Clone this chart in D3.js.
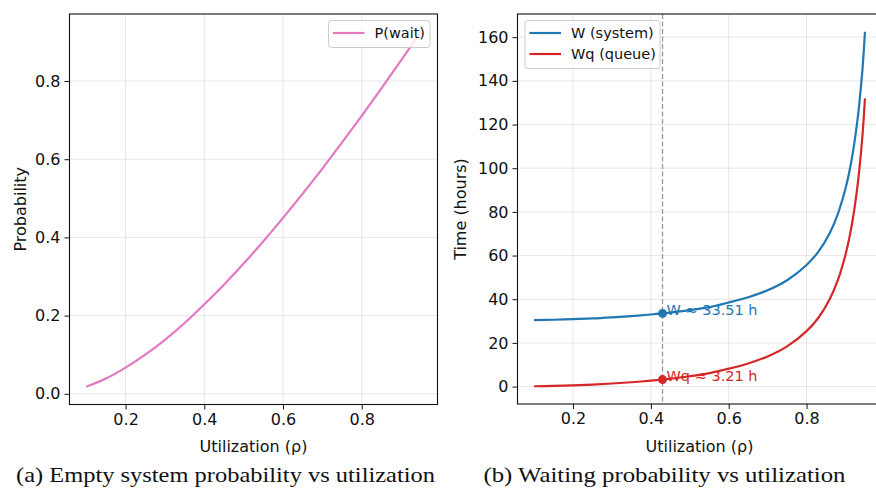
<!DOCTYPE html>
<html>
<head>
<meta charset="utf-8">
<script src="https://cdn.jsdelivr.net/npm/d3@7"></script>
<style>
  body { margin: 0; background: #fff; }
  svg { display: block; }
  text { font-family: "DejaVu Sans", sans-serif; }
  .caption { font-family: "Liberation Serif", "DejaVu Serif", serif; }
</style>
</head>
<body>
<svg width="876" height="495"></svg>
<script>
// utilization values
var rho = [0.10, 0.15, 0.20, 0.25, 0.30, 0.35, 0.40, 0.45, 0.50, 0.55,
           0.60, 0.65, 0.70, 0.75, 0.80, 0.85, 0.90, 0.95];
var pWait = [0.018, 0.039, 0.067, 0.100, 0.138, 0.181, 0.229, 0.279, 0.333, 0.390,
             0.450, 0.512, 0.576, 0.643, 0.711, 0.781, 0.853, 0.926];

// right panel
var rhoW = [0.10, 0.15, 0.20, 0.25, 0.30, 0.35, 0.40, 0.43, 0.45, 0.50, 0.55, 0.60, 0.65,
            0.70, 0.75, 0.80, 0.83, 0.86, 0.88, 0.90, 0.91, 0.92, 0.93, 0.935, 0.94, 0.945, 0.95];
var wSystem = [30.4, 30.6, 30.9, 31.2, 31.7, 32.3, 33.0, 33.51, 33.9, 35.0, 36.4, 38.5, 40.9,
               44.1, 48.7, 55.7, 61.7, 70.5, 78.9, 90.7, 98.5, 108.3, 121.0, 128.7, 137.8, 148.5, 162.5];
var wQueue = [0.14, 0.33, 0.59, 0.94, 1.40, 1.98, 2.70, 3.21, 3.60, 4.72, 6.14, 8.2, 10.6,
              13.8, 18.4, 25.4, 31.4, 40.2, 48.6, 60.4, 68.2, 78.0, 90.7, 98.4, 107.5, 118.2, 132.0];

var markRho = 0.43, markW = 33.51, markWq = 3.21;

var xTicks = [0.2, 0.4, 0.6, 0.8];
var pTicks = [0.0, 0.2, 0.4, 0.6, 0.8];
var tTicks = [0, 20, 40, 60, 80, 100, 120, 140, 160];

var blue = "#1f77b4", red = "#d62728", pink = "#e377c2", ink = "#111";

var svg = d3.select("svg");

// matplotlib style 5% margins
function padded(lo, hi) {
    var r = hi - lo;
    return [lo - 0.05 * r, hi + 0.05 * r];
}

function panel(opt) {
    var x = d3.scaleLinear().domain(padded(0.1, 0.95)).range([opt.left, opt.right]);
    var y = d3.scaleLinear().domain(opt.ydom).range([opt.bottom, opt.top]);
    var g = svg.append("g");

    // grid
    g.append("g").selectAll("line").data(opt.xt).enter().append("line")
        .attr("x1", x).attr("x2", x).attr("y1", opt.top).attr("y2", opt.bottom)
        .attr("stroke", "#b0b0b0").attr("stroke-opacity", 0.3).attr("stroke-width", 1);
    g.append("g").selectAll("line").data(opt.yt).enter().append("line")
        .attr("y1", y).attr("y2", y).attr("x1", opt.left).attr("x2", opt.right)
        .attr("stroke", "#b0b0b0").attr("stroke-opacity", 0.3).attr("stroke-width", 1);

    var xAxis = d3.axisBottom(x).tickValues(opt.xt).tickFormat(d3.format(".1f"))
        .tickSizeOuter(0).tickSize(5).tickPadding(4);
    var yAxis = d3.axisLeft(y).tickValues(opt.yt).tickFormat(opt.yfmt)
        .tickSizeOuter(0).tickSize(5).tickPadding(4);

    var gx = g.append("g").attr("transform", "translate(0," + opt.bottom + ")").call(xAxis);
    var gy = g.append("g").attr("transform", "translate(" + opt.left + ",0)").call(yAxis);
    [gx, gy].forEach(function (a) {
        a.select(".domain").remove();
        a.selectAll("text").style("font-size", "16px").style("font-family", "DejaVu Sans").style("fill", ink);
        a.selectAll("line").attr("stroke", ink);
    });

    g.append("text").attr("x", (opt.left + opt.right) / 2).attr("y", 452)
        .attr("text-anchor", "middle").style("font-size", "16px").style("fill", ink)
        .text("Utilization (ρ)");
    g.append("text")
        .attr("transform", "translate(" + opt.ylabX + "," + (opt.top + opt.bottom) / 2 + ") rotate(-90)")
        .attr("text-anchor", "middle").attr("dy", "0.35em").style("font-size", "16px").style("fill", ink)
        .text(opt.ylab);

    var body = g.append("g");
    g.append("rect").attr("x", opt.left).attr("y", opt.top)
        .attr("width", opt.right - opt.left).attr("height", opt.bottom - opt.top)
        .attr("fill", "none").attr("stroke", ink).attr("stroke-width", 1.1);

    g.append("text").attr("class", "caption")
        .attr("x", opt.capX).attr("y", 482).attr("text-anchor", "middle")
        .attr("textLength", opt.capW).attr("lengthAdjust", "spacingAndGlyphs")
        .style("font-size", "21px").style("fill", ink).text(opt.caption);

    return { x: x, y: y, body: body, g: g };
}

function drawLine(p, xs, ys, color) {
    var line = d3.line()
        .x(function (d) { return p.x(d[0]); })
        .y(function (d) { return p.y(d[1]); })
        .curve(d3.curveCatmullRom.alpha(0.5));
    p.body.append("path").datum(d3.zip(xs, ys))
        .attr("d", line).attr("fill", "none")
        .attr("stroke", color).attr("stroke-width", 2.2);
}

function legend(p, x0, y0, w, items) {
    var lg = p.g.append("g").attr("transform", "translate(" + x0 + "," + y0 + ")");
    lg.append("rect").attr("width", w).attr("height", 6 + items.length * 21)
        .attr("rx", 3).attr("fill", "#fff").attr("fill-opacity", 0.8)
        .attr("stroke", "#ccc").attr("stroke-width", 1);
    items.forEach(function (it, i) {
        var yy = 12.5 + i * 21;
        lg.append("line").attr("x1", 4.5).attr("x2", 36).attr("y1", yy).attr("y2", yy)
            .attr("stroke", it.color).attr("stroke-width", 2.2);
        lg.append("text").attr("x", 46).attr("y", yy).attr("dy", "0.35em")
            .style("font-size", "14.5px").style("fill", ink).text(it.label);
    });
}

// (a)
var pa = panel({
    left: 69.5, right: 437.5, top: 14, bottom: 404.5,
    ydom: padded(0.018, 0.926), xt: xTicks, yt: pTicks, yfmt: d3.format(".1f"),
    ylab: "Probability", ylabX: 20,
    caption: "(a) Empty system probability vs utilization", capX: 225.5, capW: 419
});
drawLine(pa, rho, pWait, pink);
legend(pa, 328.5, 20.5, 101.5, [{ label: "P(wait)", color: pink }]);

// (b)
var pb = panel({
    left: 517.5, right: 881.5, top: 14, bottom: 404,
    ydom: padded(0.14, 162.5), xt: xTicks, yt: tTicks, yfmt: d3.format("d"),
    ylab: "Time (hours)", ylabX: 460.5,
    caption: "(b) Waiting probability vs utilization", capX: 664.5, capW: 362
});
pb.body.append("line")
    .attr("x1", pb.x(markRho)).attr("x2", pb.x(markRho))
    .attr("y1", 14).attr("y2", 404)
    .attr("stroke", "#999").attr("stroke-width", 1.3).attr("stroke-dasharray", "5,2.5");
drawLine(pb, rhoW, wSystem, blue);
drawLine(pb, rhoW, wQueue, red);

[{ v: markW, c: blue, t: "W ≈ " + markW.toFixed(2) + " h" },
 { v: markWq, c: red, t: "Wq ≈ " + markWq.toFixed(2) + " h" }].forEach(function (m) {
    pb.body.append("circle").attr("cx", pb.x(markRho)).attr("cy", pb.y(m.v))
        .attr("r", 4.5).attr("fill", m.c);
    pb.body.append("text").attr("x", pb.x(markRho) + 4).attr("y", pb.y(m.v) + 1.5)
        .style("font-size", "14.5px").style("fill", m.c).text(m.t);
});

legend(pb, 525, 20.5, 135, [{ label: "W (system)", color: blue }, { label: "Wq (queue)", color: red }]);
</script>
</body>
</html>
